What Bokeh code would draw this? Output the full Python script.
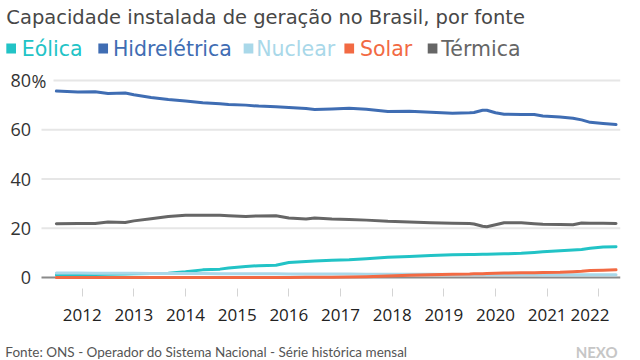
from bokeh.plotting import figure
from bokeh.models import FixedTicker, Range1d
from bokeh.layouts import column
from bokeh.core.properties import value
from bokeh.embed import file_html
from bokeh.resources import INLINE

# ---------------- data (share of installed capacity, %) ----------------
dates = ["2011-07", "2011-12", "2012-04", "2012-07", "2012-11", "2013-01", "2013-05", "2013-09",
         "2014-01", "2014-05", "2014-09", "2014-11", "2015-03", "2015-06", "2015-10", "2016-01",
         "2016-05", "2016-07", "2016-11", "2017-03", "2017-07", "2017-12", "2018-05", "2018-10",
         "2019-03", "2019-07", "2019-08", "2019-10", "2019-11", "2020-01", "2020-03", "2020-07",
         "2020-10", "2020-12", "2021-04", "2021-07", "2021-09", "2021-11", "2022-02", "2022-05"]

eolica = [1.0, 1.1, 1.2, 1.3, 1.4, 1.5, 1.6, 1.7, 2.3, 3.1, 3.4, 3.9, 4.5, 4.8, 5.0, 6.1,
          6.5, 6.7, 7.0, 7.2, 7.6, 8.2, 8.5, 8.9, 9.2, 9.3, 9.3, 9.4, 9.4, 9.5, 9.6, 9.8,
          10.2, 10.5, 10.9, 11.2, 11.4, 11.9, 12.4, 12.5]

hidreletrica = [75.7, 75.3, 75.4, 74.7, 74.9, 74.2, 73.1, 72.3, 71.7, 71.0, 70.6, 70.3, 70.0, 69.6, 69.3, 69.0,
                68.6, 68.2, 68.4, 68.7, 68.3, 67.4, 67.5, 67.1, 66.7, 66.9, 67.0, 67.9, 67.9, 66.9, 66.3, 66.2,
                66.2, 65.6, 65.2, 64.7, 64.0, 63.0, 62.5, 62.1]

nuclear = [1.8, 1.8, 1.75, 1.75, 1.7, 1.7, 1.65, 1.65, 1.6, 1.6, 1.55, 1.55, 1.5, 1.5, 1.5, 1.45,
           1.45, 1.45, 1.4, 1.4, 1.35, 1.35, 1.3, 1.3, 1.25, 1.25, 1.25, 1.25, 1.25, 1.2, 1.2, 1.2,
           1.2, 1.15, 1.15, 1.15, 1.1, 1.1, 1.1, 1.1]

solar = [0.0, 0.0, 0.0, 0.0, 0.0, 0.0, 0.0, 0.0, 0.0, 0.0, 0.0, 0.0, 0.0, 0.0, 0.0, 0.05,
         0.1, 0.1, 0.15, 0.2, 0.3, 0.6, 0.9, 1.1, 1.3, 1.4, 1.5, 1.5, 1.6, 1.7, 1.8, 1.9,
         1.9, 2.0, 2.1, 2.3, 2.5, 2.8, 2.9, 3.1]

termica = [21.8, 21.9, 21.9, 22.5, 22.3, 23.0, 23.9, 24.8, 25.3, 25.3, 25.3, 25.1, 24.8, 25.0, 25.1, 24.2,
           23.8, 24.2, 23.8, 23.6, 23.3, 22.8, 22.5, 22.2, 22.0, 21.9, 21.7, 20.8, 20.6, 21.4, 22.2, 22.2,
           21.8, 21.6, 21.5, 21.4, 22.1, 22.0, 22.0, 21.9]

series_names = ["Eólica", "Hidrelétrica", "Nuclear", "Solar", "Térmica"]
series_colors = ["#22c3c6", "#3f6db3", "#a9d8e9", "#f26a43", "#666666"]

year_ticks = [2012, 2013, 2014, 2015, 2016, 2017, 2018, 2019, 2020, 2021, 2022]
year_labels = ["2012", "2013", "2014", "2015", "2016", "2017", "2018", "2019", "2020", "2021",
               "2022\u00a0\u00a0\u00a0\u00a0"]
y_ticks = [0, 20, 40, 60, 80]
y_tick_labels = ["0", "20", "40", "60", "80"]

title_text = "Capacidade instalada de geração no Brasil, por fonte"
source_text = "Fonte: ONS - Operador do Sistema Nacional - Série histórica mensal"
brand_text = "NEXO"

FONT = "Open Sans"
FONT_HEAD = "DejaVu Sans"
FONT2 = "Lato"


def to_year(s):
    y, m = s.split("-")
    return int(y) + (int(m) - 1) / 12.0


x = [to_year(d) for d in dates]
all_series = [eolica, hidreletrica, nuclear, solar, termica]

# ---------------- layout constants ----------------
W = 640
HH, MH, FH = 62, 266, 32          # header, main, footer heights
BR, BB = 20, 40                   # main plot right / bottom borders
X_START, X_END = 2010.4185, 2022.42
PX_PER_YEAR = (W - BR) / (X_END - X_START)


def px_to_year(px):
    return X_START + px / PX_PER_YEAR


def bare(fig):
    fig.outline_line_color = None
    fig.background_fill_color = "white"
    fig.border_fill_color = "white"
    fig.min_border = 0
    fig.xgrid.visible = False
    fig.ygrid.visible = False
    return fig


# ---------------- header ----------------
head = bare(figure(width=W, height=HH, output_backend="svg", toolbar_location=None,
                   x_range=Range1d(0, W), y_range=Range1d(HH, 0),
                   x_axis_location=None, y_axis_location=None))
head.text(x=[6], y=[17], text=[title_text], text_font=value(FONT_HEAD), text_font_size="19.5px",
          text_color="#474747", text_align="left", text_baseline="middle")
sq_center = [11, 106, 256, 360, 446]
tx_left = [22, 116, 264, 371, 455]
head.rect(x=sq_center, y=[48] * 5, width=10, height=10, fill_color=series_colors, line_color=None)
head.text(x=tx_left, y=[48] * 5, text=series_names, text_color=series_colors,
          text_font=value(FONT_HEAD), text_font_size="20.5px", text_align="left", text_baseline="middle")

# ---------------- main ----------------
p = bare(figure(width=W, height=MH, output_backend="svg", toolbar_location=None,
                x_range=Range1d(X_START, X_END), y_range=Range1d(-4.467, 87.31),
                y_axis_location=None))
p.min_border_right = BR
p.min_border_bottom = BB

p.xaxis.ticker = FixedTicker(ticks=year_ticks)
p.xaxis.major_label_overrides = dict(zip(year_ticks, year_labels))
p.xaxis.axis_line_color = None
p.xaxis.major_tick_in = 0
p.xaxis.major_tick_out = 8
p.xaxis.major_tick_line_color = "#d4d4d4"
p.xaxis.major_tick_line_width = 1
p.xaxis.minor_tick_line_color = None
p.xaxis.major_label_standoff = 6
p.xaxis.major_label_text_font = FONT
p.xaxis.major_label_text_font_size = "17px"
p.xaxis.major_label_text_color = "#222222"

# horizontal grid lines (the top one leaves room for the "%")
grid_vals = y_ticks[1:]
grid_x0 = [px_to_year(41)] * (len(grid_vals) - 1) + [px_to_year(53)]
p.segment(x0=grid_x0, y0=grid_vals, x1=[X_END] * len(grid_vals), y1=grid_vals,
          line_color="#e6e6e6", line_width=2)
# zero baseline
p.segment(x0=[px_to_year(41)], y0=[0], x1=[X_END], y1=[0], line_color="#8a8a8a", line_width=2)

# y tick labels
p.text(x=[px_to_year(30.5)] * len(y_ticks), y=y_ticks, text=y_tick_labels,
       text_font=value(FONT), text_font_size="18px", text_color="#333333",
       text_align="right", text_baseline="middle")
p.text(x=[px_to_year(31)], y=[y_ticks[-1]], text=["%"],
       text_font=value(FONT), text_font_size="18px", text_color="#333333",
       text_align="left", text_baseline="middle")

for vals, col in zip(all_series, series_colors):
    p.line(x, vals, line_color=col, line_width=3, line_join="round", line_cap="round")

# ---------------- footer ----------------
foot = bare(figure(width=W, height=FH, output_backend="svg", toolbar_location=None,
                   x_range=Range1d(0, W), y_range=Range1d(FH, 0),
                   x_axis_location=None, y_axis_location=None))
foot.text(x=[5], y=[23], text=[source_text], text_font=value(FONT2), text_font_size="13.5px",
          text_color="#555555", text_align="left", text_baseline="middle")
foot.text(x=[637], y=[23], text=[brand_text], text_font=value(FONT2), text_font_size="15px",
          text_font_style="bold", text_color="#c6c6c6", text_align="right", text_baseline="middle")

layout = column(head, p, foot, spacing=0)
open("out.html", "w").write(file_html(layout, INLINE))
